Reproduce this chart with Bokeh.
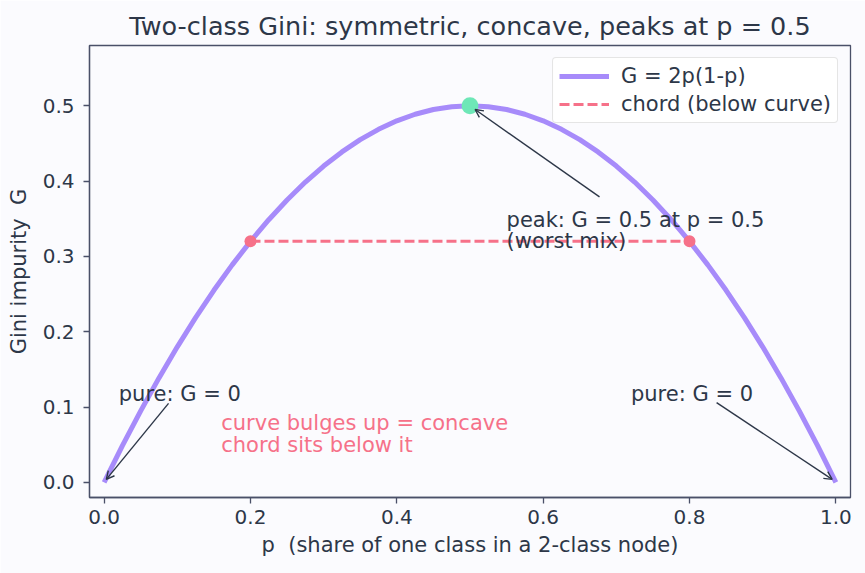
from bokeh.plotting import figure
from bokeh.models import (Range1d, FixedTicker, PrintfTickFormatter, Arrow, OpenHead,
                          Label, Legend, LegendItem)
from bokeh.embed import file_html
from bokeh.resources import INLINE

# ---- data ----
p_vals = [0.0, 0.025, 0.05, 0.075, 0.1, 0.125, 0.15, 0.175, 0.2, 0.225, 0.25, 0.275, 0.3,
          0.325, 0.35, 0.375, 0.4, 0.425, 0.45, 0.475, 0.5, 0.525, 0.55, 0.575, 0.6, 0.625,
          0.65, 0.675, 0.7, 0.725, 0.75, 0.775, 0.8, 0.825, 0.85, 0.875, 0.9, 0.925, 0.95,
          0.975, 1.0]
g_vals = [0.0, 0.04875, 0.095, 0.13875, 0.18, 0.21875, 0.255, 0.28875, 0.32, 0.34875, 0.375,
          0.39875, 0.42, 0.43875, 0.455, 0.46875, 0.48, 0.48875, 0.495, 0.49875, 0.5,
          0.49875, 0.495, 0.48875, 0.48, 0.46875, 0.455, 0.43875, 0.42, 0.39875, 0.375,
          0.34875, 0.32, 0.28875, 0.255, 0.21875, 0.18, 0.13875, 0.095, 0.04875, 0.0]
chord_p = [0.2, 0.8]
chord_g = [0.32, 0.32]
peak_p = [0.5]
peak_g = [0.5]
x_ticks = [0.0, 0.2, 0.4, 0.6, 0.8, 1.0]
y_ticks = [0.0, 0.1, 0.2, 0.3, 0.4, 0.5]

BG = "#fbfbfe"
TXT = "#2d3748"
FRAME = "#4a5068"
PURPLE = "#a78bfa"
PINK = "#f67189"
GREEN = "#6ee7b7"
FONT = "DejaVu Sans"

p = figure(width=865, height=573, output_backend="svg", toolbar_location=None,
           x_range=Range1d(-0.02, 1.02), y_range=Range1d(-0.02, 0.58),
           background_fill_color=BG, border_fill_color=BG,
           min_border_left=89, min_border_right=15, min_border_top=45, min_border_bottom=76)

p.title.text = "Two-class Gini: symmetric, concave, peaks at p = 0.5"
p.title.align = "center"
p.title.text_font = FONT
p.title.text_font_size = "25.5px"
p.title.text_font_style = "normal"
p.title.text_color = TXT
p.title.standoff = 10

p.grid.visible = False
p.outline_line_color = FRAME
p.outline_line_width = 1.3

for ax, ticks in ((p.xaxis[0], x_ticks), (p.yaxis[0], y_ticks)):
    ax.ticker = FixedTicker(ticks=ticks)
    ax.formatter = PrintfTickFormatter(format="%.1f")
    ax.axis_line_color = FRAME
    ax.axis_line_width = 1.3
    ax.major_tick_line_color = FRAME
    ax.major_tick_line_width = 1.3
    ax.major_tick_out = 6
    ax.major_tick_in = 0
    ax.minor_tick_line_color = None
    ax.major_label_text_font = FONT
    ax.major_label_text_font_size = "20px"
    ax.major_label_text_color = TXT
    ax.axis_label_text_font = FONT
    ax.axis_label_text_font_size = "21px"
    ax.axis_label_text_font_style = "normal"
    ax.axis_label_text_color = TXT

p.xaxis.major_label_standoff = 6
p.xaxis.axis_label_standoff = 6
p.yaxis.major_label_standoff = 9
p.yaxis.axis_label_standoff = 9

p.xaxis.axis_label = "p\u00a0 (share of one class in a 2-class node)"
p.yaxis.axis_label = "Gini impurity\u00a0 G"

curve = p.line(p_vals, g_vals, line_color=PURPLE, line_width=5)
chord = p.line(chord_p, chord_g, line_color=PINK, line_width=3, line_dash="10 4")
p.scatter(chord_p, chord_g, size=12, fill_color=PINK, line_color=None)
p.scatter(peak_p, peak_g, size=17, fill_color=GREEN, line_color=None)

# annotations
arrows = [((0.088, 0.105), (0.003, 0.004)),
          ((0.837, 0.106), (0.995, 0.004)),
          ((0.677, 0.379), (0.507, 0.495))]
for (xs, ys), (xe, ye) in arrows:
    p.add_layout(Arrow(end=OpenHead(size=8, line_color=TXT, line_width=1.4),
                       x_start=xs, y_start=ys, x_end=xe, y_end=ye,
                       line_color=TXT, line_width=1.4))

labels = [(0.02, 0.118, "pure: G = 0", TXT),
          (0.72, 0.118, "pure: G = 0", TXT),
          (0.55, 0.349, "peak: G = 0.5 at p = 0.5", TXT),
          (0.55, 0.32, "(worst mix)", TXT),
          (0.16, 0.079, "curve bulges up = concave", PINK),
          (0.16, 0.05, "chord sits below it", PINK)]
for x, y, t, c in labels:
    p.add_layout(Label(x=x, y=y, text=t, text_font=FONT, text_font_size="21px",
                       text_color=c, text_baseline="alphabetic"))

legend = Legend(items=[LegendItem(label="G = 2p(1-p)", renderers=[curve]),
                       LegendItem(label="chord (below curve)", renderers=[chord])],
                location="top_right", label_text_font=FONT, label_text_font_size="21px",
                label_text_color=TXT, border_line_color="#cccccc", border_line_width=1.2,
                background_fill_color="#ffffff", background_fill_alpha=0.85,
                glyph_width=50, margin=12, padding=6, spacing=4, label_standoff=12)
try:
    legend.border_radius = 4
except Exception:
    pass
p.add_layout(legend)

open("out.html", "w").write(file_html(p, INLINE))
